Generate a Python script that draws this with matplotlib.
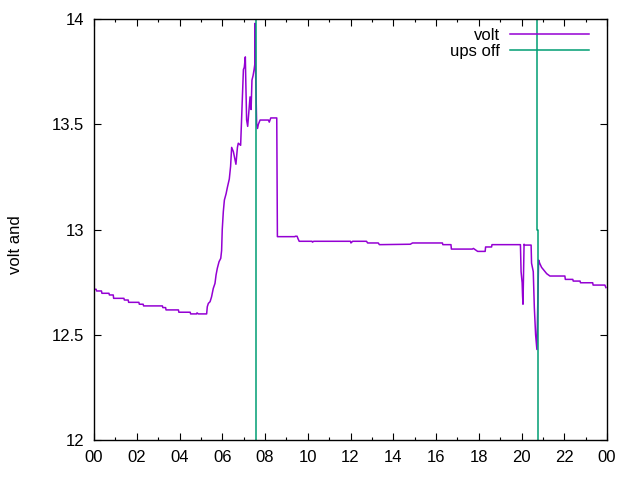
import numpy as np
import matplotlib
matplotlib.use("Agg")
import matplotlib.pyplot as plt
from matplotlib.ticker import MultipleLocator

plt.rcParams['font.family'] = ['Liberation Sans', 'DejaVu Sans']

# (hour of day, volt)
volt_points = [
    (0.00, 12.716), (0.10, 12.716), (0.12, 12.708), (0.35, 12.708), (0.37, 12.697),
    (0.70, 12.697), (0.72, 12.689), (0.90, 12.689), (0.92, 12.673), (1.40, 12.673),
    (1.42, 12.665), (1.60, 12.665), (1.62, 12.654), (2.10, 12.654), (2.12, 12.645),
    (2.30, 12.645), (2.32, 12.637), (3.20, 12.637), (3.22, 12.629), (3.35, 12.629),
    (3.37, 12.618), (3.95, 12.618), (3.97, 12.607), (4.50, 12.607), (4.52, 12.599),
    (4.80, 12.599), (4.82, 12.604), (4.88, 12.599), (5.27, 12.599), (5.30, 12.633),
    (5.35, 12.649), (5.43, 12.657), (5.50, 12.680), (5.58, 12.720), (5.66, 12.744),
    (5.71, 12.784), (5.77, 12.816), (5.85, 12.847), (5.93, 12.863), (5.97, 12.900),
    (6.00, 13.000), (6.05, 13.085), (6.10, 13.140), (6.18, 13.170), (6.24, 13.200),
    (6.33, 13.240), (6.39, 13.300), (6.44, 13.390), (6.52, 13.370), (6.60, 13.330),
    (6.64, 13.310), (6.71, 13.390), (6.75, 13.410), (6.86, 13.400), (6.92, 13.560),
    (6.99, 13.760), (7.03, 13.770), (7.08, 13.820), (7.10, 13.710), (7.14, 13.520),
    (7.19, 13.490), (7.25, 13.570), (7.30, 13.630), (7.35, 13.570), (7.39, 13.710),
    (7.44, 13.730), (7.49, 13.760), (7.53, 13.790), (7.54, 13.980), (7.56, 13.750),
    (7.61, 13.500), (7.65, 13.480), (7.69, 13.500), (7.77, 13.520), (8.16, 13.520),
    (8.20, 13.510), (8.27, 13.530), (8.55, 13.530), (8.58, 12.966), (9.40, 12.966),
    (9.42, 12.968), (9.50, 12.968), (9.55, 12.955), (9.60, 12.944), (10.20, 12.944),
    (10.22, 12.940), (10.28, 12.944), (12.00, 12.944), (12.02, 12.936), (12.10, 12.944),
    (12.75, 12.944), (12.80, 12.936), (13.30, 12.936), (13.35, 12.928), (14.80, 12.930),
    (14.90, 12.936), (16.30, 12.936), (16.32, 12.928), (16.70, 12.928), (16.72, 12.907),
    (17.70, 12.907), (17.75, 12.910), (17.95, 12.896), (18.30, 12.896), (18.32, 12.917),
    (18.60, 12.917), (18.62, 12.928), (19.95, 12.928), (19.98, 12.800), (20.03, 12.747),
    (20.05, 12.684), (20.07, 12.645), (20.12, 12.930), (20.14, 12.926), (20.45, 12.926),
    (20.47, 12.840), (20.55, 12.800), (20.60, 12.630), (20.66, 12.500), (20.72, 12.430),
    (20.76, 12.630), (20.80, 12.855), (20.85, 12.840), (20.94, 12.820), (21.10, 12.800),
    (21.18, 12.790), (21.33, 12.779), (22.03, 12.779), (22.05, 12.763), (22.40, 12.763),
    (22.42, 12.755), (22.74, 12.755), (22.76, 12.747), (23.33, 12.747), (23.35, 12.736),
    (23.90, 12.736), (23.95, 12.724),
]
volt_t = [p[0] for p in volt_points]
volt_v = [p[1] for p in volt_points]

ups_t = [7.56, 7.56, 7.60, 7.60, np.nan, 20.74, 20.74, 20.79, 20.79]
ups_v = [11.0, 13.0, 13.0, 15.0, np.nan, 15.0, 13.0, 13.0, 11.0]

x_ticks = list(range(0, 25, 2))
x_labels = ['%02d' % (h % 24) for h in x_ticks]
y_ticks = [12, 12.5, 13, 13.5, 14]
y_labels = ['12', '12.5', '13', '13.5', '14']

fig = plt.figure(figsize=(6.4, 4.8), dpi=100)
ax = fig.add_axes([94/640, 1 - 440/480, (607 - 94)/640, (440 - 19)/480])

ax.plot(volt_t, volt_v, color='#9400D3', lw=1.1, label='volt')
ax.plot(ups_t, ups_v, color='#009E73', lw=1.1, label='ups off')

ax.set_xlim(0, 24)
ax.set_ylim(12, 14)
ax.set_xticks(x_ticks)
ax.set_xticklabels(x_labels)
ax.xaxis.set_minor_locator(MultipleLocator(1))
ax.set_yticks(y_ticks)
ax.set_yticklabels(y_labels)
ax.tick_params(which='both', direction='in', top=True, right=True, labelsize=12, pad=7)
ax.tick_params(which='major', length=5, width=0.8)
ax.tick_params(which='minor', length=2.5, width=0.8)
for s in ax.spines.values():
    s.set_linewidth(1.0)

fig.text(15/640, 1 - 245/480, 'volt and', rotation=90, fontsize=12, ha='center', va='center')

leg = ax.legend(loc='upper right', frameon=False, markerfirst=False, fontsize=12,
                handlelength=4.7, handletextpad=0.6, labelspacing=0.05,
                borderaxespad=0.3, bbox_to_anchor=(0.987, 1.006))

fig.savefig('out.png', dpi=100)
